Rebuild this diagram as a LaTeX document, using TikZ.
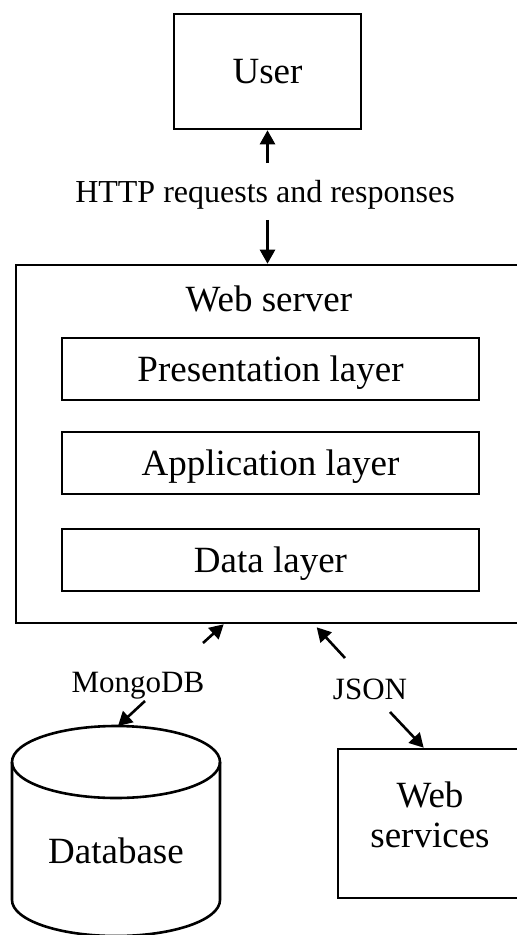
\documentclass[tikz,border=0pt]{standalone}
\usepackage{fontspec}
\setmainfont{Liberation Serif}
\usetikzlibrary{arrows.meta}
\tikzset{
  box/.style={draw, line width=2.6pt, inner sep=0pt},
  bigtext/.style={font=\fontsize{37}{40}\selectfont, text height=24.5pt, text depth=0pt, inner sep=0pt},
  smalltext/.style={font=\fontsize{31}{35}\selectfont, text height=20.5pt, text depth=0pt, inner sep=0pt},
  arr/.style={line width=2.6pt, -{Triangle[length=14pt,width=15pt]}},
}
\begin{document}
\begin{tikzpicture}[x=1pt, y=-1pt]
\useasboundingbox (0,0) rectangle (517,935);

% user and web server
\node[box, bigtext, minimum width=187pt, minimum height=115pt] (user) at (267.5,71.5) {User};
\node[smalltext, font=\fontsize{32}{35}\selectfont] (http) at (265,192.5) {HTTP requests and responses};
\node[box, minimum width=503pt, minimum height=358pt] (ws) at (267.5,444) {};
\node[bigtext] (wstitle) at (269,299) {Web server};

% the three layers
\node[box, bigtext, minimum width=417pt, minimum height=62pt] (pres) at (270.5,369) {Presentation layer};
\node[box, bigtext, minimum width=417pt, minimum height=62pt] (app) at (270.5,463) {Application layer};
\node[box, bigtext, minimum width=417pt, minimum height=62pt] (data) at (270.5,560) {Data layer};

% database cylinder
\draw[line width=2.6pt] (116,762) ellipse [x radius=104pt, y radius=36pt];
\draw[line width=2.6pt] (12,762) -- (12,900) arc[start angle=180, end angle=360, x radius=104pt, y radius=36pt] -- (220,762);
\node[bigtext] (db) at (116,851) {Database};
\coordinate (dbtop) at (118,726);

% web services
\node[box, minimum width=184pt, minimum height=149pt] (wsv) at (430,823.5) {};
\node[font=\fontsize{37}{40}\selectfont, align=center, inner sep=0pt, anchor=base] (wsvtext) at (430,847) {Web\\services};

% edge labels
\node[smalltext] (mongo) at (138,682) {MongoDB};
\node[smalltext] (json) at (370,689) {JSON};

% connectors
\draw[arr] ([yshift=19pt]http.north -| user.south) -- (user.south);
\draw[arr] ([yshift=-17pt]http.south -| ws.north) -- (ws.north);
\coordinate (mgtip) at ([xshift=209pt]ws.south west);
\coordinate (mgtail) at (203,643);
\draw[arr] (mgtail) -- (mgtip);
\coordinate (dbtail) at (145,701);
\draw[arr] (dbtail) -- (dbtop);
\coordinate (jstip) at ([xshift=302pt,yshift=-3pt]ws.south west);
\coordinate (jstail) at (345,658);
\draw[arr] (jstail) -- (jstip);
\coordinate (svtail) at (390,712);
\draw[arr] (svtail) -- ([xshift=87pt]wsv.north west);
\end{tikzpicture}
\end{document}
